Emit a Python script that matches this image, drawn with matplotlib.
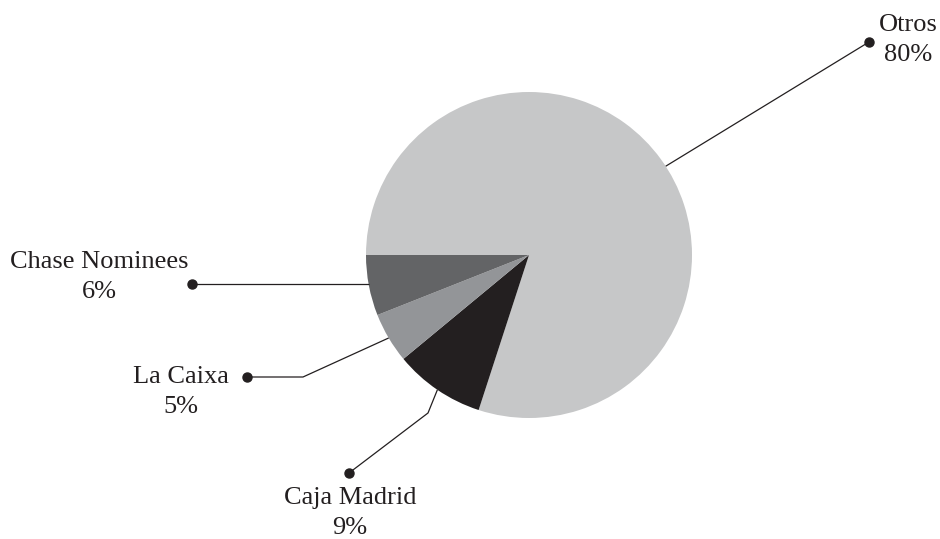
import numpy as np
import matplotlib
matplotlib.use("Agg")
import matplotlib.pyplot as plt

# data
labels = ["Otros", "Caja Madrid", "La Caixa", "Chase Nominees"]
shares = [80, 9, 5, 6]
colors = ["#c6c7c8", "#231f20", "#939598", "#636466"]

W, H = 940, 539
plt.rcParams["font.family"] = ["Liberation Serif", "DejaVu Serif"]

fig = plt.figure(figsize=(W / 100, H / 100), dpi=100)
ax = fig.add_axes([0, 0, 1, 1])

cx, cy, r = 529, H - 255, 163
wedges, _ = ax.pie(shares, colors=colors, startangle=180, counterclock=False,
                   center=(cx, cy), radius=r, frame=True,
                   wedgeprops=dict(linewidth=0))
ax.set_xlim(0, W)
ax.set_ylim(0, H)
ax.set_aspect("equal")
ax.axis("off")

# leader layout in screen pixels: elbow (or None), dot, label centre
layout = {
    "Otros": (None, (869, 42), (908, 40)),
    "Caja Madrid": ((428, 413), (349, 473), (350, 513)),
    "La Caixa": ((303, 377), (247, 377), (181, 392)),
    "Chase Nominees": (None, (192, 284), (99, 277)),
}

ink = "#231f20"
for w, lab, val in zip(wedges, labels, shares):
    mid = np.deg2rad((w.theta1 + w.theta2) / 2)
    if lab == "Otros":
        mid = np.deg2rad(33)
    ax0 = cx + r * np.cos(mid)
    ay0 = cy + r * np.sin(mid)
    elbow, dot, txt = layout[lab]
    xs, ys = [ax0], [ay0]
    if lab == "Chase Nominees":
        ys[0] = H - dot[1]
    if elbow is not None:
        xs.append(elbow[0])
        ys.append(H - elbow[1])
    xs.append(dot[0])
    ys.append(H - dot[1])
    ax.plot(xs, ys, color=ink, lw=0.9, solid_capstyle="butt")
    ax.plot(dot[0], H - dot[1], "o", color=ink, ms=6.5)
    ax.text(txt[0], H - txt[1], f"{lab}\n{val}%", ha="center", va="center",
            multialignment="center", fontsize=19, color=ink, linespacing=1.45)

fig.savefig("out.png", dpi=100)
